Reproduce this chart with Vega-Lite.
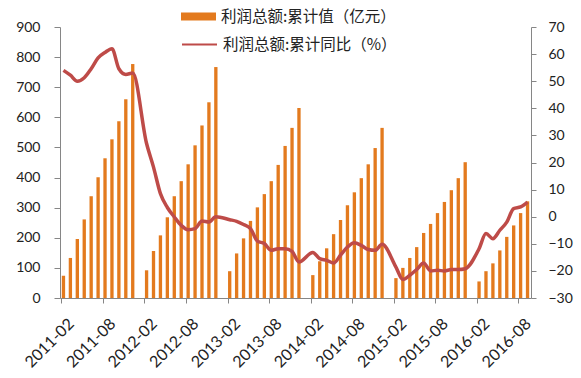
{
  "$schema": "https://vega.github.io/schema/vega-lite/v6.json",
  "width": 471,
  "height": 271,
  "autosize": {"type": "none"},
  "padding": {"left": 60, "top": 27, "right": 50, "bottom": 80},
  "background": "white",
  "config": {
    "view": {"stroke": null},
    "font": "Lato",
    "axis": {"grid": false, "domainColor": "#868686", "tickColor": "#868686", "labelColor": "#222222", "labelFont": "Lato", "labelFontSize": 14, "title": null},
    "legend": {"labelFont": "Noto Sans CJK SC", "labelFontSize": 15.5, "labelColor": "#222222", "padding": 0, "labelLimit": 400}
  },
  "data": {"values": [
    {"month": "2011-02", "profit": 74, "yoy": 54.0},
    {"month": "2011-03", "profit": 133, "yoy": 52.2},
    {"month": "2011-04", "profit": 196, "yoy": 50.0},
    {"month": "2011-05", "profit": 261, "yoy": 51.3},
    {"month": "2011-06", "profit": 338, "yoy": 54.6},
    {"month": "2011-07", "profit": 401, "yoy": 58.6},
    {"month": "2011-08", "profit": 464, "yoy": 60.6},
    {"month": "2011-09", "profit": 527, "yoy": 62.0},
    {"month": "2011-10", "profit": 587, "yoy": 54.6},
    {"month": "2011-11", "profit": 660, "yoy": 52.5},
    {"month": "2011-12", "profit": 777, "yoy": 53.0},
    {"month": "2012-02", "profit": 92, "yoy": 27.0},
    {"month": "2012-03", "profit": 156, "yoy": 18.3},
    {"month": "2012-04", "profit": 208, "yoy": 8.5},
    {"month": "2012-05", "profit": 268, "yoy": 3.4},
    {"month": "2012-06", "profit": 338, "yoy": -0.1},
    {"month": "2012-07", "profit": 388, "yoy": -3.2},
    {"month": "2012-08", "profit": 444, "yoy": -4.8},
    {"month": "2012-09", "profit": 507, "yoy": -4.4},
    {"month": "2012-10", "profit": 573, "yoy": -1.6},
    {"month": "2012-11", "profit": 650, "yoy": -2.0},
    {"month": "2012-12", "profit": 767, "yoy": 0.0},
    {"month": "2013-02", "profit": 89, "yoy": -1.1},
    {"month": "2013-03", "profit": 148, "yoy": -1.7},
    {"month": "2013-04", "profit": 198, "yoy": -2.9},
    {"month": "2013-05", "profit": 256, "yoy": -4.4},
    {"month": "2013-06", "profit": 301, "yoy": -9.0},
    {"month": "2013-07", "profit": 345, "yoy": -9.9},
    {"month": "2013-08", "profit": 388, "yoy": -12.4},
    {"month": "2013-09", "profit": 442, "yoy": -11.8},
    {"month": "2013-10", "profit": 505, "yoy": -11.8},
    {"month": "2013-11", "profit": 565, "yoy": -12.8},
    {"month": "2013-12", "profit": 631, "yoy": -16.7},
    {"month": "2014-02", "profit": 76, "yoy": -13.2},
    {"month": "2014-03", "profit": 122, "yoy": -15.5},
    {"month": "2014-04", "profit": 165, "yoy": -16.1},
    {"month": "2014-05", "profit": 212, "yoy": -17.1},
    {"month": "2014-06", "profit": 259, "yoy": -14.2},
    {"month": "2014-07", "profit": 308, "yoy": -11.2},
    {"month": "2014-08", "profit": 351, "yoy": -9.6},
    {"month": "2014-09", "profit": 398, "yoy": -10.6},
    {"month": "2014-10", "profit": 444, "yoy": -12.1},
    {"month": "2014-11", "profit": 498, "yoy": -12.4},
    {"month": "2014-12", "profit": 565, "yoy": -10.2},
    {"month": "2015-02", "profit": 66, "yoy": -18.6},
    {"month": "2015-03", "profit": 100, "yoy": -23.2},
    {"month": "2015-04", "profit": 133, "yoy": -21.6},
    {"month": "2015-05", "profit": 169, "yoy": -19.5},
    {"month": "2015-06", "profit": 216, "yoy": -17.1},
    {"month": "2015-07", "profit": 246, "yoy": -20.0},
    {"month": "2015-08", "profit": 282, "yoy": -19.8},
    {"month": "2015-09", "profit": 319, "yoy": -20.0},
    {"month": "2015-10", "profit": 358, "yoy": -19.5},
    {"month": "2015-11", "profit": 398, "yoy": -19.5},
    {"month": "2015-12", "profit": 451, "yoy": -19.2},
    {"month": "2016-02", "profit": 55, "yoy": -11.8},
    {"month": "2016-03", "profit": 89, "yoy": -6.2},
    {"month": "2016-04", "profit": 115, "yoy": -8.1},
    {"month": "2016-05", "profit": 158, "yoy": -5.0},
    {"month": "2016-06", "profit": 203, "yoy": -2.0},
    {"month": "2016-07", "profit": 241, "yoy": 3.0},
    {"month": "2016-08", "profit": 282, "yoy": 3.6},
    {"month": "2016-09", "profit": 321, "yoy": 5.4}
  ]},
  "encoding": {
    "x": {
      "field": "month",
      "type": "ordinal",
      "sort": null,
      "scale": {
        "type": "band",
        "paddingInner": 0.52,
        "paddingOuter": 0.26,
        "domain": ["2011-02","2011-03","2011-04","2011-05","2011-06","2011-07","2011-08","2011-09","2011-10","2011-11","2011-12",
                   "2012-01","2012-02","2012-03","2012-04","2012-05","2012-06","2012-07","2012-08","2012-09","2012-10","2012-11","2012-12",
                   "2013-01","2013-02","2013-03","2013-04","2013-05","2013-06","2013-07","2013-08","2013-09","2013-10","2013-11","2013-12",
                   "2014-01","2014-02","2014-03","2014-04","2014-05","2014-06","2014-07","2014-08","2014-09","2014-10","2014-11","2014-12",
                   "2015-01","2015-02","2015-03","2015-04","2015-05","2015-06","2015-07","2015-08","2015-09","2015-10","2015-11","2015-12",
                   "2016-01","2016-02","2016-03","2016-04","2016-05","2016-06","2016-07","2016-08","2016-09"]
      },
      "axis": {
        "values": ["2011-02","2011-08","2012-02","2012-08","2013-02","2013-08","2014-02","2014-08","2015-02","2015-08","2016-02","2016-08"],
        "labelAngle": -45,
        "labelAlign": "right",
        "labelBaseline": "middle",
        "labelFontSize": 16,
        "bandPosition": 0,
        "labelOffset": 8,
        "tickSize": 5,
        "labelPadding": 18
      }
    }
  },
  "layer": [
    {
      "mark": {"type": "bar", "color": "#E37A1E"},
      "encoding": {
        "y": {
          "field": "profit",
          "type": "quantitative",
          "scale": {"domain": [0, 900], "nice": false},
          "axis": {"orient": "left", "values": [0,100,200,300,400,500,600,700,800,900], "tickSize": 6, "labelPadding": 14}
        },
        "fill": {
          "datum": "利润总额:累计值（亿元）",
          "type": "nominal",
          "scale": {"range": ["#E37A1E"]},
          "legend": {"title": null, "orient": "none", "legendX": 121, "legendY": -28, "symbolType": "M-1,-0.23L1,-0.23L1,0.23L-1,0.23Z", "symbolSize": 1225, "symbolStrokeWidth": 0, "labelOffset": 5}
        }
      }
    },
    {
      "mark": {"type": "line", "color": "#BE4B48", "strokeWidth": 3.5, "interpolate": "monotone"},
      "encoding": {
        "y": {
          "field": "yoy",
          "type": "quantitative",
          "scale": {"domain": [-30, 70], "nice": false},
          "axis": {"orient": "right", "values": [-30,-20,-10,0,10,20,30,40,50,60,70], "tickSize": 5, "labelPadding": 12}
        },
        "stroke": {
          "datum": "利润总额:累计同比（%）",
          "type": "nominal",
          "scale": {"range": ["#BE4B48"]},
          "legend": {"title": null, "orient": "none", "legendX": 121, "legendY": -1, "symbolType": "M-1,0L1,0", "symbolSize": 1225, "symbolStrokeWidth": 2, "labelOffset": 5}
        }
      }
    }
  ],
  "resolve": {"scale": {"y": "independent"}}
}
